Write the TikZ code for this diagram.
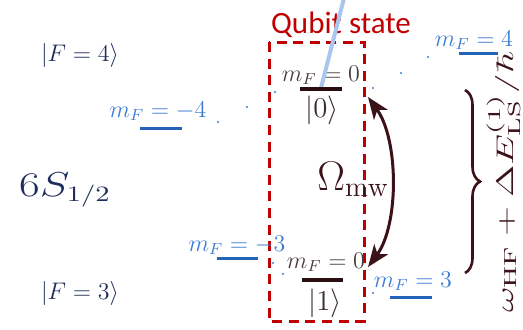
\documentclass[tikz,border=0pt]{standalone}
\usepackage{fontspec}
\usepackage{graphicx}
\newfontfamily\carlito{Carlito}
\usetikzlibrary{arrows.meta,decorations.pathreplacing}
\definecolor{navy}{HTML}{1F2D5C}
\definecolor{bluetxt}{HTML}{3D7CD4}
\definecolor{blueline}{HTML}{2563B8}
\definecolor{qred}{HTML}{C00000}
\definecolor{maroon}{HTML}{3B1218}
\definecolor{graytxt}{HTML}{4A3C3C}
\definecolor{beam}{HTML}{A9C6EE}
\tikzset{
  hflabel/.style={text=navy, inner sep=0pt, font=\fontsize{13pt}{15pt}\selectfont},
  mflabel/.style={text=bluetxt, inner sep=0pt, anchor=base, font=\fontsize{12pt}{14pt}\selectfont},
  mzlabel/.style={text=graytxt, inner sep=0pt, anchor=base, font=\fontsize{12pt}{14pt}\selectfont},
  ketlabel/.style={text=graytxt!80!black, inner sep=0pt, font=\fontsize{15pt}{17pt}\selectfont},
  bluelevel/.style={draw=blueline, line width=1.5pt},
  darklevel/.style={draw=maroon!70!black, line width=1.6pt},
  dotmark/.style={fill=bluetxt, circle, inner sep=0pt, minimum size=1.2pt},
}
\begin{document}
\begin{tikzpicture}[x=0.5pt,y=-0.5pt]
\useasboundingbox (0,0) rectangle (523,329);

% hyperfine labels
\node[hflabel] (F4) at (80,55) {$|F=4\rangle$};
\node[hflabel] (F3) at (80,293) {$|F=3\rangle$};
\node[text=navy, inner sep=0pt] (S12) at (65,190) {\scalebox{1.3}[1]{\fontsize{16pt}{18pt}\selectfont $6S_{1/2}$}};

% Qubit state box
\node[text=qred, anchor=base, inner sep=0pt, font=\carlito\fontsize{15.5pt}{17pt}\selectfont] (QS) at (341,33) {Qubit state};
\draw[qred, line width=1.5pt, dash pattern=on 5pt off 3.3pt] (269,42) rectangle (364,321);

% blue Zeeman levels
\node[mflabel] (mm4) at (158,117) {$m_F=-4$};
\draw[bluelevel] (140,128) -- (182,128);
\node[mflabel] (mp4) at (474,46) {$m_F=4$};
\draw[bluelevel] (459,53) -- (498,53);
\node[mflabel] (mm3) at (237,251) {$m_F=-3$};
\draw[bluelevel] (217,258) -- (258,258);
\node[mflabel] (mp3) at (413,287) {$m_F=3$};
\draw[bluelevel] (390,297) -- (432,297);

% dots
\foreach \p/\q in {218/122,247/107,275/92,373/88,401/73,428/57,273/263,283/274,373/293}
  \node[dotmark] at (\p,\q) {};

% m_F = 0 levels
\node[mzlabel] (m0a) at (321,81) {$m_F=0$};
\node[mzlabel] (m0b) at (326,268) {$m_F=0$};
\draw[beam, line width=2pt] (344,-2) -- (321,88);
\coordinate (L0a) at (300,89);
\coordinate (L0b) at (342,89);
\draw[darklevel] (L0a) -- (L0b);
\coordinate (L1a) at (302,280);
\coordinate (L1b) at (343,280);
\draw[darklevel] (L1a) -- (L1b);
\node[ketlabel] (k0) at (322,110) {$|0\rangle$};
\node[ketlabel] (k1) at (325,303) {$|1\rangle$};

% microwave arrow
\coordinate (A0) at (368,97);
\coordinate (A1) at (368,267);
\draw[maroon, line width=1.5pt, {Stealth[length=11pt,width=8.5pt,inset=3pt]}-{Stealth[length=11pt,width=8.5pt,inset=3pt]}]
  (A0) .. controls (399,140) and (399,225) .. (A1);
\node[text=maroon, anchor=base west, inner sep=0pt, font=\fontsize{20pt}{22pt}\selectfont] (Om) at (317,190) {$\Omega_{\mathrm{mw}}$};

% brace and splitting
\coordinate (B0) at (465,90);
\coordinate (B1) at (465,273);
\draw[maroon, line width=1.3pt, decorate, decoration={brace, amplitude=7.5pt}] (B0) -- (B1);
\node[text=maroon, rotate=90, anchor=base, inner sep=0pt] (split) at (513,182)
  {\scalebox{1.65}[1]{\fontsize{12.5pt}{14pt}\selectfont $\omega_{\mathrm{HF}}+\Delta E^{(1)}_{\mathrm{LS}}/\hbar$}};
\end{tikzpicture}
\end{document}
